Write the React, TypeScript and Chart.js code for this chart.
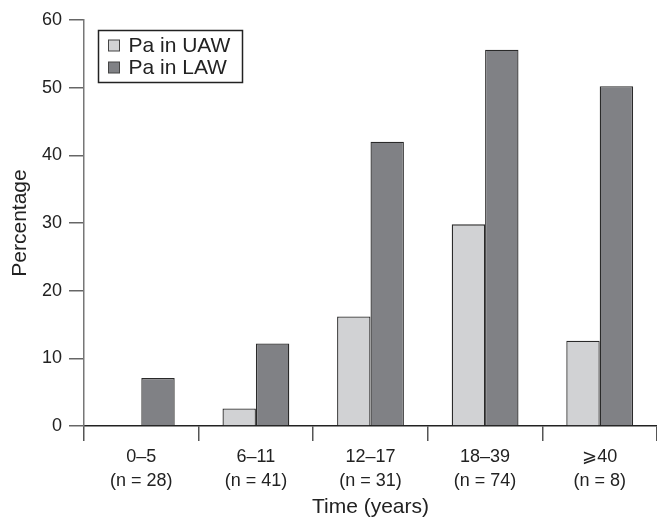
import { useEffect, useRef } from "react";
import { Chart, registerables } from "chart.js";

Chart.register(...registerables);

const categoryRanges = ["0–5", "6–11", "12–17", "18–39", "⩾40"];
const categoryCounts = ["(n = 28)", "(n = 41)", "(n = 31)", "(n = 74)", "(n = 8)"];
const seriesNames = ["Pa in UAW", "Pa in LAW"];
const uawValues = [0, 2.6, 16.2, 29.8, 12.6];
const lawValues = [7.1, 12.2, 42.0, 55.6, 50.2];
const yTickValues = [0, 10, 20, 30, 40, 50, 60];
const yTitle = "Percentage";
const xTitle = "Time (years)";

const UAW_COLOR = "#d1d2d4";
const LAW_COLOR = "#808185";
const FONT = "'Liberation Sans', Arial, sans-serif";

const legendPlugin = {
  id: "boxLegend",
  afterDraw(chart: any) {
    const ctx = chart.ctx as CanvasRenderingContext2D;
    ctx.save();
    const bx = 98.5, by = 30.5, bw = 144, bh = 52;
    ctx.fillStyle = "#ffffff";
    ctx.fillRect(bx, by, bw, bh);
    ctx.strokeStyle = "#222";
    ctx.lineWidth = 1.5;
    ctx.strokeRect(bx, by, bw, bh);
    const colors = [UAW_COLOR, LAW_COLOR];
    ctx.font = `21px ${FONT}`;
    ctx.textBaseline = "middle";
    ctx.textAlign = "left";
    seriesNames.forEach((name, i) => {
      const cy = 45.5 + i * 22;
      ctx.fillStyle = colors[i];
      ctx.fillRect(108.5, cy - 5.5, 11, 11);
      ctx.strokeStyle = "#444";
      ctx.lineWidth = 1;
      ctx.strokeRect(108.5, cy - 5.5, 11, 11);
      ctx.fillStyle = "#222";
      ctx.fillText(name, 128.5, cy + 1);
    });
    ctx.restore();
  },
};

export default function App() {
  const ref = useRef<HTMLCanvasElement | null>(null);
  useEffect(() => {
    if (!ref.current) return;
    const labels = categoryRanges.map((r, i) => [r, categoryCounts[i]]);
    const chart = new Chart(ref.current, {
      type: "bar",
      data: {
        labels,
        datasets: [
          {
            label: seriesNames[0],
            data: uawValues,
            backgroundColor: UAW_COLOR,
            borderColor: "#2a2a2a",
            borderWidth: 1.3,
            categoryPercentage: 0.583,
            barPercentage: 1,
          },
          {
            label: seriesNames[1],
            data: lawValues,
            backgroundColor: LAW_COLOR,
            borderColor: "#2a2a2a",
            borderWidth: 1.3,
            categoryPercentage: 0.583,
            barPercentage: 1,
          },
        ],
      },
      options: {
        responsive: false,
        animation: false,
        devicePixelRatio: 1,
        layout: { padding: { top: 20, left: 0, right: 0, bottom: 0 } },
        plugins: {
          legend: { display: false },
          tooltip: { enabled: false },
        },
        scales: {
          x: {
            grid: {
              drawOnChartArea: false,
              drawTicks: true,
              tickLength: 15,
              color: "#555",
              lineWidth: 1.5,
              offset: true,
            },
            border: { color: "#222", width: 1.5 },
            ticks: {
              color: "#222",
              font: { family: FONT, size: 18, lineHeight: 1.28 },
              padding: 5,
              maxRotation: 0,
              autoSkip: false,
            },
            title: {
              display: true,
              text: xTitle,
              color: "#222",
              font: { family: FONT, size: 21 },
              padding: { top: 0, bottom: -2 },
            },
            afterFit(scale: any) {
              scale.height = 92;
            },
          },
          y: {
            min: 0,
            max: 60,
            afterBuildTicks(scale: any) {
              scale.ticks = yTickValues.map((v) => ({ value: v }));
            },
            grid: {
              drawOnChartArea: false,
              drawTicks: true,
              tickLength: 15,
              color: "#666",
              lineWidth: 1.5,
            },
            border: { color: "#777", width: 1.5 },
            ticks: {
              color: "#222",
              font: { family: FONT, size: 18 },
              padding: 7,
            },
            title: {
              display: true,
              text: yTitle,
              color: "#222",
              font: { family: FONT, size: 21 },
              padding: { top: 8, bottom: 0 },
            },
            afterFit(scale: any) {
              scale.width = 84;
            },
          },
        },
      },
      plugins: [legendPlugin],
    });
    return () => chart.destroy();
  }, []);
  return (
    <div style={{ position: "fixed", left: 0, top: 0, width: 657, height: 518, background: "#fff" }}>
      <canvas ref={ref} width={657} height={518} />
    </div>
  );
}
